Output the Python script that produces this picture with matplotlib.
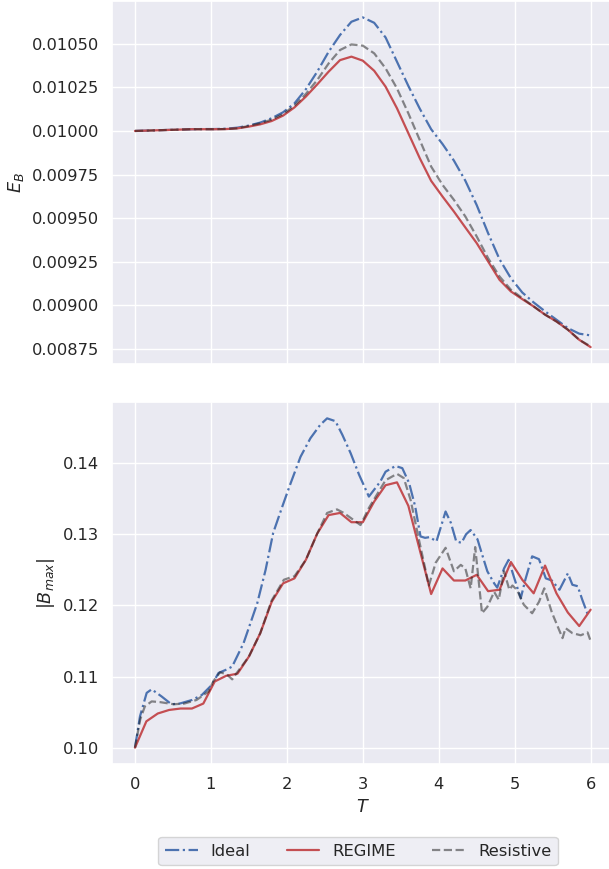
import numpy as np
import matplotlib
matplotlib.use("Agg")
import matplotlib.pyplot as plt
import seaborn as sns
from matplotlib.ticker import FormatStrFormatter

sns.set_theme(style="darkgrid")
plt.rcParams['font.family'] = ['DejaVu Sans']

# ---- data ----
T_grid = [round(0.15 * k, 2) for k in range(41)]

EB_ideal = [0.010000, 0.010002, 0.010004, 0.010006, 0.010008, 0.010010, 0.010011, 0.010011,
            0.010013, 0.010019, 0.010031, 0.010048, 0.010073, 0.010107, 0.010158, 0.010239,
            0.010340, 0.010454, 0.010550, 0.010626, 0.010651, 0.010620, 0.010536, 0.010397,
            0.010258, 0.010128, 0.010010, 0.009925, 0.009830, 0.009715, 0.009575, 0.009414,
            0.009265, 0.009156, 0.009074, 0.009017, 0.008966, 0.008918, 0.008870, 0.008838,
            0.008828]
EB_regime = [0.010000, 0.010002, 0.010004, 0.010006, 0.010008, 0.010010, 0.010010, 0.010010,
             0.010011, 0.010015, 0.010025, 0.010038, 0.010057, 0.010088, 0.010135, 0.010197,
             0.010267, 0.010340, 0.010406, 0.010426, 0.010403, 0.010345, 0.010254, 0.010130,
             0.009987, 0.009844, 0.009714, 0.009624, 0.009538, 0.009447, 0.009357, 0.009252,
             0.009147, 0.009080, 0.009036, 0.008994, 0.008947, 0.008908, 0.008861, 0.008803,
             0.008761]
EB_resistive = [0.010000, 0.010002, 0.010004, 0.010006, 0.010008, 0.010010, 0.010010, 0.010010,
                0.010011, 0.010015, 0.010029, 0.010044, 0.010065, 0.010097, 0.010145, 0.010212,
                0.010292, 0.010387, 0.010464, 0.010496, 0.010489, 0.010445, 0.010359, 0.010244,
                0.010101, 0.009948, 0.009796, 0.009691, 0.009605, 0.009510, 0.009395, 0.009271,
                0.009166, 0.009090, 0.009042, 0.008994, 0.008947, 0.008908, 0.008861, 0.008803,
                0.008765]

Bmax_regime = [0.1000, 0.1037, 0.1048, 0.1053, 0.1055, 0.1055, 0.1062, 0.1093, 0.1101, 0.1104,
               0.1128, 0.1161, 0.1205, 0.1231, 0.1238, 0.1264, 0.1301, 0.1327, 0.1330, 0.1317,
               0.1317, 0.1346, 0.1369, 0.1373, 0.1340, 0.1278, 0.1216, 0.1252, 0.1235, 0.1235,
               0.1243, 0.1220, 0.1222, 0.1261, 0.1236, 0.1217, 0.1256, 0.1217, 0.1190, 0.1171,
               0.1194]

T_ideal = [0.0, 0.066, 0.154, 0.22, 0.35, 0.48, 0.59, 0.75, 0.88, 1.01, 1.10, 1.21, 1.28, 1.43,
           1.52, 1.61, 1.72, 1.82, 1.94, 2.04, 2.18, 2.31, 2.44, 2.53, 2.64, 2.73, 2.84, 2.95,
           3.08, 3.23, 3.30, 3.43, 3.52, 3.61, 3.69, 3.76, 3.82, 3.88, 3.97, 4.09, 4.16, 4.23,
           4.30, 4.36, 4.42, 4.51, 4.57, 4.64, 4.73, 4.77, 4.86, 4.92, 4.99, 5.08, 5.14, 5.23,
           5.32, 5.41, 5.49, 5.59, 5.70, 5.76, 5.83, 5.89, 5.96, 6.0]
Bmax_ideal = [0.1000, 0.1044, 0.1077, 0.1082, 0.1072, 0.1061, 0.1062, 0.1067, 0.1074, 0.1088,
              0.1105, 0.1110, 0.1114, 0.1147, 0.1175, 0.1203, 0.1250, 0.1302, 0.1339, 0.1369,
              0.1409, 0.1435, 0.1454, 0.1463, 0.1459, 0.1440, 0.1414, 0.1384, 0.1353, 0.1374,
              0.1388, 0.1396, 0.1393, 0.1372, 0.1339, 0.1297, 0.1295, 0.1296, 0.1290, 0.1332,
              0.1316, 0.1290, 0.1288, 0.1300, 0.1306, 0.1293, 0.1272, 0.1248, 0.1231, 0.1225,
              0.1252, 0.1264, 0.1240, 0.1210, 0.1236, 0.1269, 0.1265, 0.1238, 0.1235, 0.1222,
              0.1245, 0.1229, 0.1227, 0.1208, 0.1188, 0.1190]

T_resistive = [0.0, 0.07, 0.13, 0.22, 0.33, 0.51, 0.65, 0.81, 0.97, 1.03, 1.12, 1.21, 1.28, 1.34,
               1.5, 1.65, 1.8, 1.96, 2.04, 2.1, 2.25, 2.4, 2.53, 2.66, 2.75, 2.97, 3.08, 3.3,
               3.45, 3.54, 3.63, 3.74, 3.87, 3.96, 4.09, 4.2, 4.29, 4.35, 4.42, 4.48, 4.57, 4.64,
               4.73, 4.79, 4.86, 4.93, 4.97, 5.03, 5.12, 5.23, 5.32, 5.39, 5.49, 5.63, 5.67, 5.76,
               5.87, 5.96, 6.0]
Bmax_resistive = [0.1000, 0.1040, 0.1058, 0.1065, 0.1064, 0.1061, 0.1062, 0.1067, 0.1079, 0.1093,
                  0.1106, 0.1103, 0.1096, 0.1105, 0.1128, 0.1161, 0.1207, 0.1236, 0.1239, 0.1241,
                  0.1264, 0.1301, 0.1330, 0.1335, 0.1330, 0.1313, 0.1337, 0.1376, 0.1385, 0.1379,
                  0.1348, 0.1292, 0.1228, 0.1260, 0.1281, 0.1248, 0.1257, 0.1252, 0.1224, 0.1282,
                  0.1189, 0.1198, 0.1219, 0.1208, 0.1248, 0.1222, 0.1228, 0.1222, 0.1201, 0.1189,
                  0.1205, 0.1224, 0.1190, 0.1154, 0.1168, 0.1161, 0.1158, 0.1162, 0.1150]

labels = ["Ideal", "REGIME", "Resistive"]
x_ticks = [0, 1, 2, 3, 4, 5, 6]
eb_ticks = [0.00875, 0.00900, 0.00925, 0.00950, 0.00975, 0.01000, 0.01025, 0.01050]
bm_ticks = [0.10, 0.11, 0.12, 0.13, 0.14]

# ---- figure ----
W, H = 609, 869
fig = plt.figure(figsize=(W / 100, H / 100), dpi=100)

def px_axes(x0, x1, y0, y1):
    return fig.add_axes([x0 / W, 1 - y1 / H, (x1 - x0) / W, (y1 - y0) / H])

ax1 = px_axes(112.2, 613.4, 1.0, 363.5)
ax2 = px_axes(112.2, 613.4, 402.0, 764.0)

blue = "#4C72B0"
red = "#C44E52"
lw = 1.6

ax1.plot(T_grid, EB_ideal, color=blue, ls="-.", lw=lw, label=labels[0])
ax1.plot(T_grid, EB_regime, color=red, ls="-", lw=lw, label=labels[1])
ax1.plot(T_grid, EB_resistive, color="k", ls="--", lw=lw, alpha=0.5, label=labels[2])

ax2.plot(T_ideal, Bmax_ideal, color=blue, ls="-.", lw=lw, label=labels[0])
ax2.plot(T_grid, Bmax_regime, color=red, ls="-", lw=lw, label=labels[1])
ax2.plot(T_resistive, Bmax_resistive, color="k", ls="--", lw=lw, alpha=0.5, label=labels[2])

for ax in (ax1, ax2):
    ax.set_xlim(-0.3, 6.3)
    ax.set_xticks(x_ticks)
    ax.tick_params(labelsize=11.7, colors=".15")

ax1.set_ylim(0.008667, 0.010745)
ax1.set_yticks(eb_ticks)
ax1.yaxis.set_major_formatter(FormatStrFormatter("%.5f"))
ax1.tick_params(axis="x", labelbottom=False)
ax1.set_ylabel("$E_B$", fontsize=12.7)

ax2.set_ylim(0.0977, 0.1486)
ax2.set_yticks(bm_ticks)
ax2.yaxis.set_major_formatter(FormatStrFormatter("%.2f"))
ax2.set_ylabel("$|B_{max}|$", fontsize=12.7)
ax2.set_xlabel("$T$", fontsize=12.7)

handles, labs = ax2.get_legend_handles_labels()
fig.legend(handles, labs, loc="upper center", ncol=3, fontsize=11.8,
           bbox_to_anchor=(358 / W, 1 - 829 / H), frameon=True,
           columnspacing=2.2, handlelength=2.0)

fig.savefig("out.png", dpi=100)
